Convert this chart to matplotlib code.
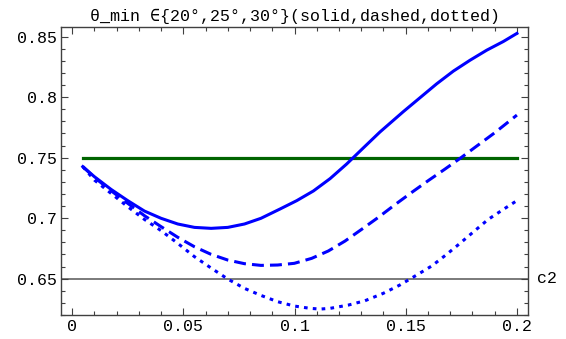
import matplotlib.pyplot as plt
from matplotlib.ticker import MultipleLocator

# readings
c2_solid = [0.0048, 0.0100, 0.0175, 0.0250, 0.0325, 0.0400, 0.0475, 0.0550,
            0.0625, 0.0700, 0.0775, 0.0849, 0.0935, 0.1010, 0.1085, 0.1160,
            0.1234, 0.1309, 0.1384, 0.1489, 0.1564, 0.1639, 0.1714, 0.1789,
            0.1864, 0.1939, 0.2000]
y_solid = [0.7426, 0.7343, 0.7238, 0.7145, 0.7059, 0.6999, 0.6952, 0.6924,
           0.6916, 0.6924, 0.6952, 0.6999, 0.7076, 0.7145, 0.7225, 0.7327,
           0.7447, 0.7580, 0.7712, 0.7880, 0.7995, 0.8110, 0.8215, 0.8305,
           0.8388, 0.8460, 0.8527]

c2_dashed = [0.0048, 0.0100, 0.0175, 0.0250, 0.0325, 0.0400, 0.0475, 0.0550,
             0.0625, 0.0700, 0.0775, 0.0849, 0.0924, 0.0999, 0.1077, 0.1152,
             0.1227, 0.1302, 0.1377, 0.1452, 0.1527, 0.1601, 0.1676, 0.1751,
             0.1826, 0.1901, 0.2000]
y_dashed = [0.7426, 0.7337, 0.7227, 0.7123, 0.7021, 0.6930, 0.6842, 0.6764,
            0.6701, 0.6654, 0.6624, 0.6610, 0.6613, 0.6627, 0.6668, 0.6729,
            0.6811, 0.6908, 0.7007, 0.7112, 0.7213, 0.7310, 0.7405, 0.7503,
            0.7605, 0.7707, 0.7852]

c2_dotted = [0.0048, 0.0100, 0.0175, 0.0250, 0.0325, 0.0400, 0.0475, 0.0550,
             0.0625, 0.0700, 0.0775, 0.0849, 0.0924, 0.0999, 0.1070, 0.1115,
             0.1160, 0.1242, 0.1317, 0.1399, 0.1474, 0.1542, 0.1617, 0.1684,
             0.1744, 0.1811, 0.1871, 0.1946, 0.2000]
y_dotted = [0.7426, 0.7315, 0.7205, 0.7095, 0.6990, 0.6897, 0.6792, 0.6682,
            0.6588, 0.6497, 0.6420, 0.6362, 0.6310, 0.6274, 0.6255, 0.6249,
            0.6255, 0.6282, 0.6318, 0.6379, 0.6448, 0.6522, 0.6605, 0.6701,
            0.6792, 0.6897, 0.6990, 0.7081, 0.7145]

c2_range = [0.0048, 0.200]
target = 0.75
axis_y = 0.65

title = "θ_min ∈{20°,25°,30°}(solid,dashed,dotted)"
mono = ["Liberation Mono", "DejaVu Sans Mono"]

fig = plt.figure(figsize=(5.66, 3.39), dpi=100)
ax = fig.add_axes([0.1078, 0.0708, 0.8251, 0.8496])

blue = "#0000ff"
ax.axhline(axis_y, color="#707070", lw=1.3, zorder=1)
ax.plot(c2_range, [target, target], color="#006400", lw=2.3)
ax.plot(c2_solid, y_solid, color=blue, lw=2.2)
ax.plot(c2_dashed, y_dashed, color=blue, lw=2.2, dashes=(3.9, 2.0))
ax.plot(c2_dotted, y_dotted, color=blue, lw=2.2, dashes=(1.2, 1.7))

ax.set_xlim(-0.005, 0.205)
ax.set_ylim(0.620, 0.858)

ax.xaxis.set_minor_locator(MultipleLocator(0.01))
ax.yaxis.set_minor_locator(MultipleLocator(0.01))
ax.set_xticks([0, 0.05, 0.1, 0.15, 0.2])
ax.set_xticklabels(["0", "0.05", "0.1", "0.15", "0.2"])
ax.set_yticks([0.65, 0.7, 0.75, 0.8, 0.85])
ax.set_yticklabels(["0.65", "0.7", "0.75", "0.8", "0.85"])

ax.tick_params(which="both", direction="in", top=True, right=True,
               color="#404040", width=0.8)
ax.tick_params(which="major", length=5, pad=3)
ax.tick_params(which="minor", length=3)
for lab in ax.get_xticklabels() + ax.get_yticklabels():
    lab.set_family(mono)
    lab.set_fontsize(12)
for sp in ax.spines.values():
    sp.set_color("#404040")
    sp.set_linewidth(1.0)

ax.text(1.02, axis_y, "c2", transform=ax.get_yaxis_transform(),
        family=mono, fontsize=12, va="center", ha="left")
ax.set_title(title, family=mono, fontsize=12, pad=4)

fig.savefig("out.png", dpi=100)
